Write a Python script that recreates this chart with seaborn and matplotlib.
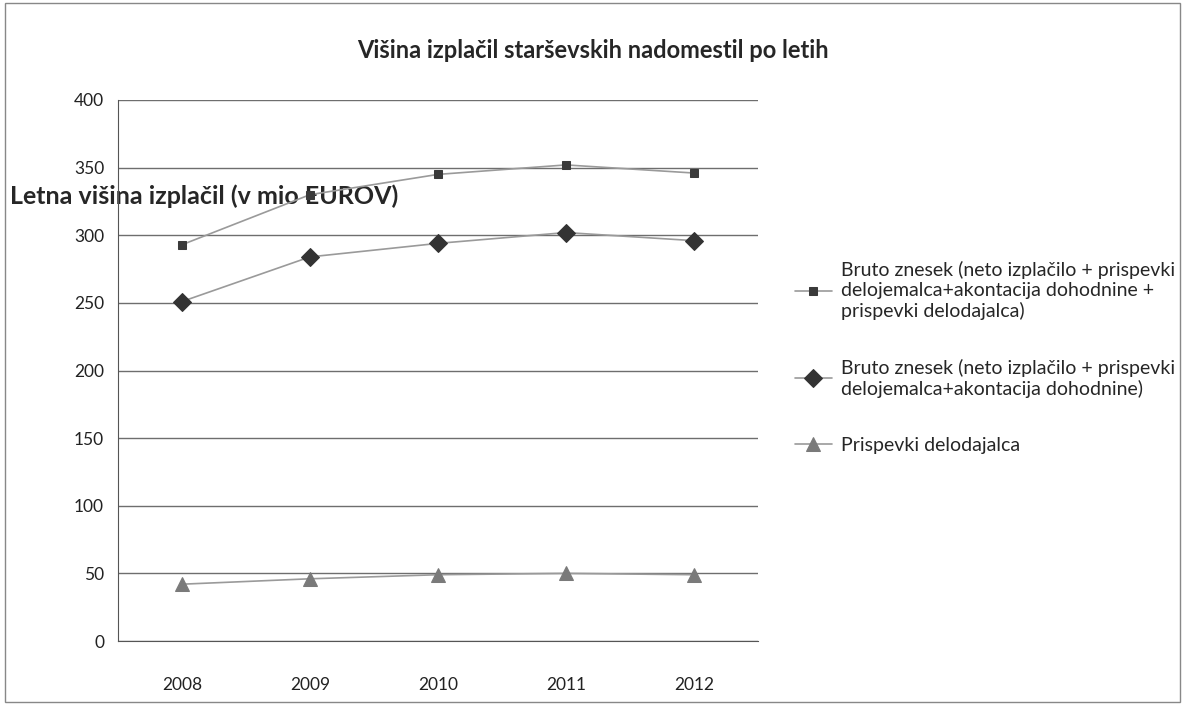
import matplotlib
matplotlib.use("Agg")
import matplotlib.pyplot as plt
import seaborn as sns
import pandas as pd

# values (mio EUR)
years = ["2008", "2009", "2010", "2011", "2012"]
bruto_vse = [293, 330, 345, 352, 346]
bruto_brez = [251, 284, 294, 302, 296]
prispevki = [42, 46, 49, 50, 49]

labels = [
    "Bruto znesek (neto izplačilo + prispevki\ndelojemalca+akontacija dohodnine +\nprispevki delodajalca)",
    "Bruto znesek (neto izplačilo + prispevki\ndelojemalca+akontacija dohodnine)",
    "Prispevki delodajalca",
]

df = pd.DataFrame({
    "leto": years * 3,
    "vrednost": bruto_vse + bruto_brez + prispevki,
    "serija": [labels[0]] * 5 + [labels[1]] * 5 + [labels[2]] * 5,
})

sns.set_style("white")
plt.rcParams["font.family"] = ["Lato", "DejaVu Sans"]

fig = plt.figure(figsize=(11.85, 7.05), dpi=100)
ax = fig.add_axes([118 / 1185, 64 / 705, 640 / 1185, 541 / 705])

markers = {labels[0]: "s", labels[1]: "D", labels[2]: "^"}
msize = {labels[0]: 6, labels[1]: 9, labels[2]: 10}
mcol = {labels[0]: "#3a3a3a", labels[1]: "#333333", labels[2]: "#7a7a7a"}

for lab in labels:
    sub = df[df["serija"] == lab]
    sns.lineplot(data=sub, x="leto", y="vrednost", ax=ax, color="#9a9a9a",
                 linewidth=1.2, marker=markers[lab], markersize=msize[lab],
                 markerfacecolor=mcol[lab], markeredgecolor=mcol[lab],
                 label=lab, sort=False)

ax.set_xlim(-0.5, 4.5)
ax.set_ylim(0, 400)
ax.set_yticks(range(0, 401, 50))
ax.yaxis.grid(True, color="#6e6e6e", linewidth=1)
ax.xaxis.grid(False)
for s in ["top", "right"]:
    ax.spines[s].set_visible(False)
ax.spines["left"].set_color("#555555")
ax.spines["bottom"].set_color("#555555")
ax.tick_params(axis="both", length=0, labelsize=12.5, colors="#222222")
ax.tick_params(axis="y", pad=10)
ax.tick_params(axis="x", pad=26)

ax.set_xlabel("")
ax.set_ylabel("Letna višina izplačil (v mio EUROV)", rotation=0,
              fontsize=18, fontweight="bold", ha="left", va="center")
ax.yaxis.set_label_coords(-0.169, 0.823)

fig.suptitle("Višina izplačil starševskih nadomestil po letih",
             fontsize=17, fontweight="bold", x=0.5, y=0.945)

ax.legend(loc="upper left", bbox_to_anchor=(1.03, 0.735), frameon=False,
          fontsize=14, labelspacing=2.0, handlelength=1.9,
          handletextpad=0.5)

fig.patches.append(plt.Rectangle((0.004, 0.004), 0.992, 0.992,
                                 transform=fig.transFigure, fill=False,
                                 edgecolor="#888888", linewidth=1))

fig.savefig("out.png", dpi=100)
